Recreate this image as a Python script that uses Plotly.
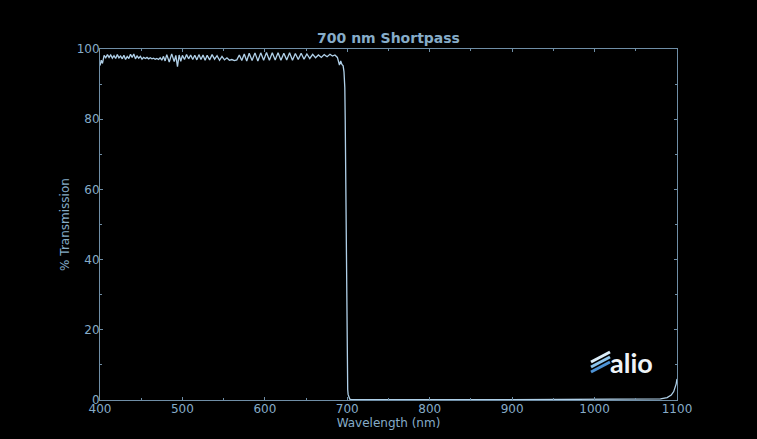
import plotly.graph_objects as go

# Wavelength (nm) and % transmission
wavelength = [
    400, 401.5, 403, 405, 407, 409, 411, 413, 415, 417, 419, 421, 423, 425, 427, 429,
    431, 433, 435, 437, 439, 441, 443, 445, 447, 449, 451, 453, 455, 457, 459, 461,
    463, 465, 467, 469, 471, 473, 475, 477, 479, 481, 484, 487, 490, 492, 494, 496,
    498, 500, 502.5, 505, 507.5, 510, 512.5, 515, 517.5, 520, 522.5, 525, 527.5, 530,
    533, 536, 539, 542, 545, 548, 551, 554, 557, 560, 563, 566, 569, 572, 575, 578,
    581, 584.5, 588, 591.5, 595, 598.5, 602, 605.5, 609, 612.5, 616, 619.5, 623,
    626.5, 630, 633.5, 637, 640.5, 644, 647.5, 651, 654.5, 658, 661.5, 665, 668.5,
    672, 675.5, 679, 682, 685, 688, 690.5, 692, 693.5, 695, 696, 697, 697.5, 698,
    698.5, 699, 699.5, 700, 700.5, 701, 702, 703, 705, 720, 800, 900, 1000, 1060,
    1080, 1088, 1093, 1096, 1098, 1099, 1100,
]
transmission = [
    95.3, 96.8, 95.9, 98.2, 97.5, 98.4, 97.6, 98.3, 97.4, 98.1, 97.3, 98.4, 97.5, 98.0, 97.2, 98.2,
    97.0, 97.9, 97.3, 98.5, 97.6, 98.6, 97.2, 98.0, 97.4, 97.9, 97.1, 97.6, 97.3, 97.6, 97.2, 97.5,
    97.2, 97.4, 97.1, 97.3, 97.0, 97.5, 96.8, 97.9, 96.6, 98.4, 96.3, 98.6, 96.4, 98.2, 95.0, 98.3,
    96.5, 98.2, 97.0, 98.4, 97.2, 98.3, 97.0, 98.2, 96.9, 98.4, 97.0, 98.3, 96.8, 98.2,
    96.9, 98.4, 97.1, 98.1, 96.8, 97.9, 96.9, 97.5, 96.8, 97.0, 96.7, 96.9, 98.3, 96.7, 98.6, 96.6,
    98.8, 96.7, 98.9, 96.6, 98.9, 96.8, 99.0, 96.8, 98.9, 96.9, 98.9, 96.8, 98.8,
    96.9, 98.9, 96.8, 98.7, 97.0, 98.8, 97.1, 98.6, 97.3, 98.5, 97.5, 98.3, 97.6,
    98.4, 97.8, 98.5, 98.0, 98.3, 97.6, 95.4, 96.6, 95.6, 95.2, 93.5, 89.0, 80.0, 62.0,
    42.0, 25.0, 13.0, 6.0, 3.0, 1.6, 0.6, 0.25, 0.12, 0.1, 0.1, 0.1, 0.1, 0.15,
    0.3, 0.7, 1.4, 2.4, 3.6, 4.6, 6.0,
]

x_ticks = [400, 500, 600, 700, 800, 900, 1000, 1100]
y_ticks = [0, 20, 40, 60, 80, 100]

title_text = "700 nm Shortpass"
x_title = "Wavelength (nm)"
y_title = "% Transmission"
logo_text = "alio"

text_color = "#86acc8"
frame_color = "#6f8ea6"
line_color = "#b0d0e8"
font_family = "DejaVu Sans, Verdana, sans-serif"

W, H = 757, 439
L, R, T, B = 100, 80, 49, 39
PW, PH = W - L - R, H - T - B


def px_to_paper(px, py):
    return (px - L) / PW, (H - B - py) / PH


fig = go.Figure()
fig.add_trace(go.Scatter(
    x=wavelength, y=transmission, mode="lines",
    line=dict(color=line_color, width=1.3),
    hoverinfo="x+y", showlegend=False,
))

axis_common = dict(
    showgrid=False, zeroline=False,
    showline=True, linecolor=frame_color, linewidth=1, mirror="ticks",
    ticks="inside", ticklen=3, tickwidth=1, tickcolor=frame_color,
    tickfont=dict(family=font_family, size=12, color=text_color),
)

fig.update_layout(
    width=W, height=H,
    paper_bgcolor="black", plot_bgcolor="black",
    margin=dict(l=L, r=R, t=T, b=B),
    title=dict(
        text="<b>" + title_text + "</b>",
        x=(L + W - R) / 2 / W, xanchor="center",
        y=1 - 38 / H, yanchor="middle",
        font=dict(family=font_family, size=14, color=text_color),
    ),
    xaxis=dict(
        range=[400, 1100], tickvals=x_ticks, ticktext=[str(v) for v in x_ticks],
        title=dict(text=x_title, standoff=2,
                   font=dict(family=font_family, size=12, color=text_color)),
        ticklabelstandoff=-2,
        minor=dict(ticks="inside", ticklen=2, tickcolor=frame_color, dtick=50),
        **axis_common,
    ),
    yaxis=dict(
        range=[0, 100], tickvals=y_ticks, ticktext=[str(v) for v in y_ticks],
        title=dict(text=y_title, standoff=4,
                   font=dict(family=font_family, size=12, color=text_color)),
        ticklabelstandoff=-3,
        minor=dict(ticks="inside", ticklen=2, tickcolor=frame_color, dtick=10),
        **axis_common,
    ),
)

# logo: three slanted stripes + "alio" word
stripe_colors = ["#dceef9", "#8cc4ec", "#4d93d6"]
for i, c in enumerate(stripe_colors):
    x0, y0 = px_to_paper(591, 362 + i * 5)
    x1, y1 = px_to_paper(610, 352 + i * 5)
    fig.add_shape(
        type="line", xref="paper", yref="paper",
        x0=x0, y0=y0, x1=x1, y1=y1,
        line=dict(color=c, width=3), layer="above",
    )

lx, ly = px_to_paper(608, 362)
fig.add_annotation(
    x=lx, y=ly, xref="paper", yref="paper", xanchor="left", yanchor="middle",
    text="<b>" + logo_text + "</b>", showarrow=False,
    font=dict(family="Lato, DejaVu Sans, sans-serif", size=27, color="#eef3f8"),
)

html = fig.to_html(include_plotlyjs=True, full_html=True,
                   config={"displayModeBar": False})
html = html.replace("<body>", '<body style="margin:0;background:black;overflow:hidden">', 1)
with open("out.html", "w", encoding="utf-8") as f:
    f.write(html)
